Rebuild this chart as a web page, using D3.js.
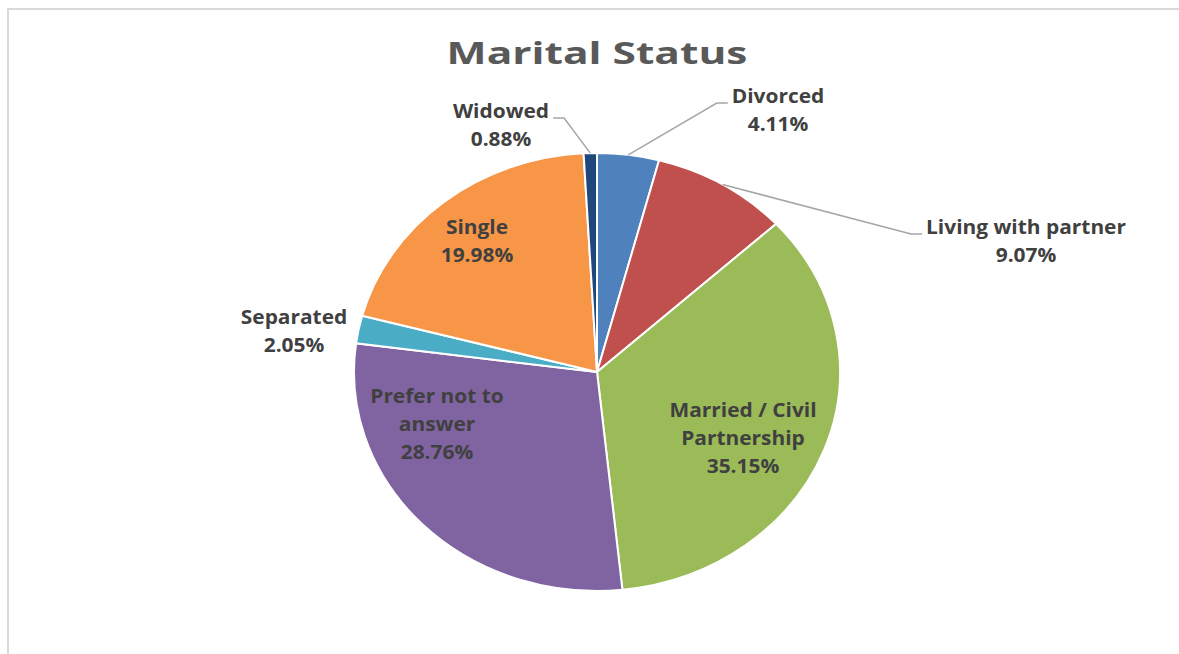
<!DOCTYPE html>
<html>
<head>
<meta charset="utf-8">
<script src="https://cdn.jsdelivr.net/npm/d3@7"></script>
<style>
  html, body { margin: 0; padding: 0; background: #fff; }
  svg { display: block; }
</style>
</head>
<body>
<div id="chart"></div>
<script>
'use strict';

// chart data
const categories = ['Divorced', 'Living with partner', 'Married / Civil Partnership',
    'Prefer not to answer', 'Separated', 'Single', 'Widowed'];
const percentages = [4.11, 9.07, 35.15, 28.76, 2.05, 19.98, 0.88];
const sliceColors = ['#4f81bd', '#c0504d', '#9bbb59', '#8064a2', '#4bacc6', '#f79646', '#1f497d'];
const labelLines = [['Divorced'], ['Living with partner'], ['Married / Civil', 'Partnership'],
    ['Prefer not to', 'answer'], ['Separated'], ['Single'], ['Widowed']];

// label placement (center x, first baseline, leader side)
const labelLayout = [
    {x: 778, y: 103, leader: 'right'},
    {x: 1026, y: 234, leader: 'right'},
    {x: 743, y: 417},
    {x: 437, y: 403},
    {x: 294, y: 324},
    {x: 477, y: 234},
    {x: 501, y: 118, leader: 'left'}
];

const width = 1179, height = 654;
const cx = 597, cy = 372, ry = 219, rx = 243;
const sx = rx / ry;
const textStretch = 1.1;

const svg = d3.select('#chart').append('svg')
    .attr('width', width).attr('height', height);

svg.append('rect')
    .attr('x', 8).attr('y', 9)
    .attr('width', width + 20).attr('height', height + 20)
    .attr('fill', 'none').attr('stroke', '#d9d9d9').attr('stroke-width', 2);

svg.append('text')
    .attr('transform', `translate(${cx},64) scale(1.37,1)`)
    .attr('text-anchor', 'middle')
    .style('font-family', '"Open Sans", sans-serif')
    .style('font-weight', 700)
    .style('font-size', '31px')
    .attr('fill', '#595959')
    .text('Marital Status');

const pie = d3.pie().sort(null).value(d => d)(percentages);
const arc = d3.arc().innerRadius(0).outerRadius(ry);
const rim = d3.arc().innerRadius(ry).outerRadius(ry);

const pieGroup = svg.append('g')
    .attr('transform', `translate(${cx},${cy}) scale(${sx},1)`);

pieGroup.selectAll('path')
    .data(pie)
    .join('path')
    .attr('d', arc)
    .attr('fill', (d, i) => sliceColors[i])
    .attr('stroke', '#fff')
    .attr('stroke-width', 2)
    .attr('vector-effect', 'non-scaling-stroke');

const labels = svg.append('g')
    .style('font-family', '"Open Sans", sans-serif')
    .style('font-weight', 700)
    .style('font-size', '19px')
    .attr('fill', '#404040');

pie.forEach((d, i) => {
    const pos = labelLayout[i];
    const lines = labelLines[i].concat([percentages[i].toFixed(2) + '%']);
    const t = labels.append('text')
        .attr('transform', `translate(${pos.x},${pos.y}) scale(${textStretch},1)`)
        .attr('text-anchor', 'middle');
    lines.forEach((line, k) => {
        t.append('tspan').attr('x', 0).attr('y', k * 28).text(line);
    });

    if (pos.leader) {
        const firstW = t.select('tspan').node().getComputedTextLength() * textStretch;
        const [ax, ay] = rim.centroid(d);
        const anchor = [cx + ax * sx, cy + ay];
        const edge = pos.leader === 'right' ? pos.x - firstW / 2 : pos.x + firstW / 2;
        const dir = pos.leader === 'right' ? -1 : 1;
        const pts = [anchor, [edge + dir * 15, pos.y], [edge + dir * 4, pos.y]];
        svg.append('path')
            .attr('d', d3.line()(pts))
            .attr('fill', 'none')
            .attr('stroke', '#a6a6a6')
            .attr('stroke-width', 1.5);
    }
});
</script>
</body>
</html>
